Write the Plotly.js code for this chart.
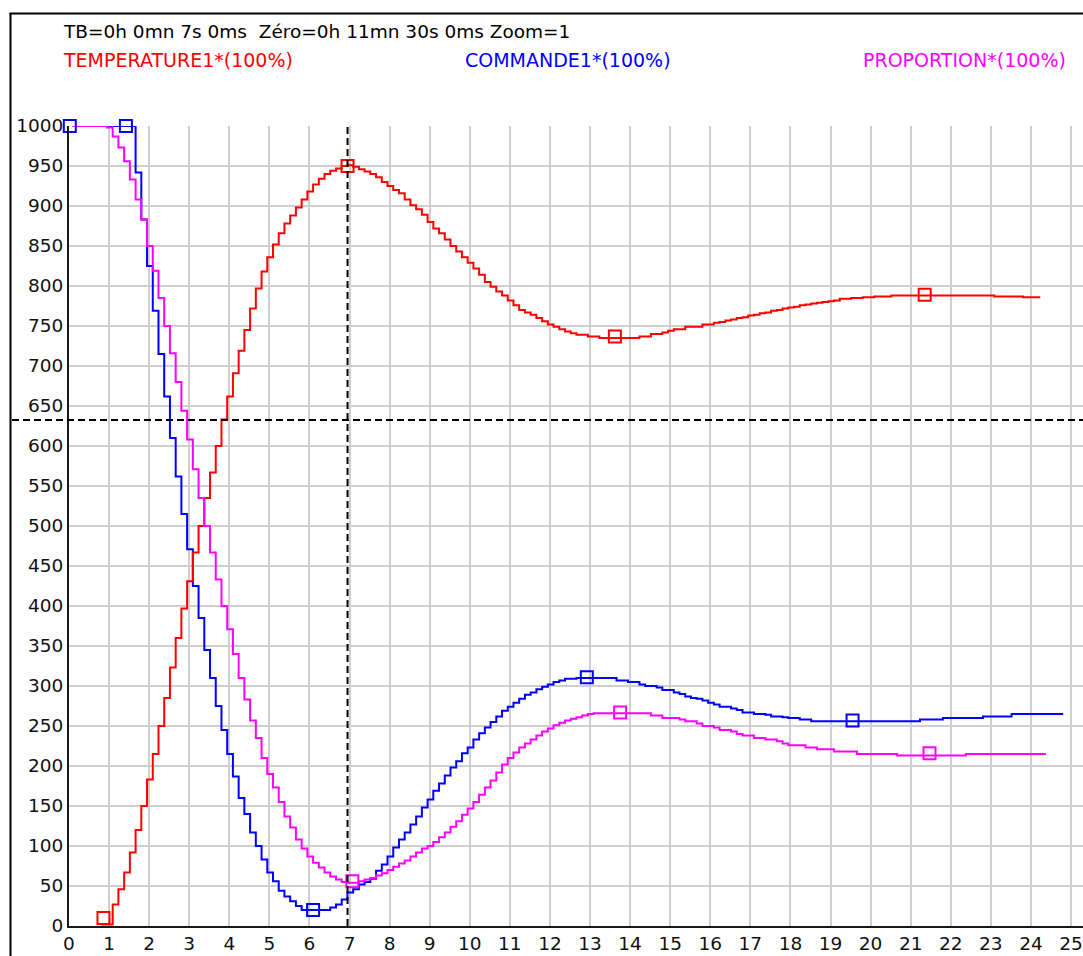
<!DOCTYPE html>
<html><head><meta charset="utf-8">
<script src="https://cdn.plot.ly/plotly-3.0.1.min.js"></script>
<style>html,body{margin:0;padding:0;background:#fff}#chart{width:1083px;height:956px}</style>
</head><body><div id="chart"></div>
<script>
// sampling of the recorder (seconds)
const sampleStart = 0.09;
const samplePeriod = 1 / 7;

// null = not visible (hidden under the time axis in the original)
const temperature1 = [
  null,null,null,null,null,2,2,27,46,67,
  92,120,150,183,215,250,285,323,360,397,
  431,467,500,535,567,600,633,662,691,719,
  745,772,797,818,836,852,866,878,888,898,
  908,918,927,934,940,944,947,950,951,949,
  946,943,940,936,930,925,920,916,908,901,
  896,889,880,872,866,858,850,843,836,829,
  822,814,805,799,793,788,782,776,770,767,
  764,760,756,752,749,746,743,741,739,739,
  737,737,735,735,735,735,735,735,735,737,
  737,740,740,742,744,746,746,749,749,749,
  752,752,754,755,757,758,760,761,763,764,
  766,767,769,770,772,773,774,776,777,778,
  779,780,781,782,784,784,785,785,786,786,
  787,787,787,788,788,788,788,788,788,788,
  788,788,788,788,788,788,788,788,788,788,
  788,787,787,787,787,787,786,786,786,786
];

const commande1 = [
  1000,1000,1000,1000,1000,1000,1000,1000,1000,1000,
  1000,942,883,825,769,715,662,610,562,515,
  471,425,385,345,310,275,245,215,187,160,
  140,117,100,83,67,56,44,37,31,25,
  20,20,20,20,20,23,27,33,42,46,
  52,55,59,69,77,87,98,108,117,127,
  137,148,158,169,178,188,198,206,216,223,
  233,241,248,255,262,269,274,279,284,289,
  292,296,299,302,305,307,309,309,310,310,
  310,310,310,310,310,307,307,305,305,302,
  300,300,298,295,295,292,290,287,285,284,
  282,279,277,274,274,272,270,267,267,265,
  265,264,262,262,261,260,260,258,258,256,
  256,256,256,256,256,256,256,256,256,256,
  256,256,256,256,256,256,256,256,258,258,
  258,258,260,260,260,260,260,260,260,262,
  262,262,262,262,265,265,265,265,265,265,
  265,265,265,265
];

const proportion = [
  1000,1000,1000,1000,1000,1000,998,987,973,956,
  933,908,883,850,819,785,750,716,680,644,
  608,571,535,500,467,433,400,371,340,310,
  283,257,235,210,190,173,155,137,123,108,
  97,87,79,73,67,62,58,55,54,54,
  56,58,60,63,66,70,74,78,82,87,
  92,97,100,105,111,117,124,131,139,147,
  155,164,173,182,192,202,210,217,223,228,
  233,238,243,247,251,254,257,259,261,263,
  265,266,266,266,266,266,266,266,266,266,
  266,263,263,260,260,260,258,256,256,253,
  250,250,248,245,245,243,240,238,238,235,
  235,233,233,231,228,226,226,226,223,223,
  221,221,221,218,218,218,218,215,215,215,
  215,215,215,215,213,213,213,213,213,213,
  213,213,213,213,213,213,215,215,215,215,
  215,215,215,215,215,215,215,215,215,215,
  215
];

// square markers placed by the recorder on each curve
const tempMarkT = [0.86, 6.95, 13.62, 21.35];
const tempMarkV = [10, 950, 737, 789];
const cmdMarkT  = [0.02, 1.42, 6.09, 12.92, 19.55];
const cmdMarkV  = [1000, 1000, 20, 311, 257];
const propMarkT = [7.07, 13.75, 21.47];
const propMarkV = [56, 267, 216];

// cursor
const cursorT = 6.95;
const cursorV = 632.5;

const xTicks = [0,1,2,3,4,5,6,7,8,9,10,11,12,13,14,15,16,17,18,19,20,21,22,23,24,25];
const yTicks = [0,50,100,150,200,250,300,350,400,450,500,550,600,650,700,750,800,850,900,950,1000];

const headerText = 'TB=0h 0mn 7s 0ms\u00A0\u00A0Zéro=0h 11mn 30s 0ms Zoom=1';
const seriesNames = ['TEMPERATURE1*(100%)', 'COMMANDE1*(100%)', 'PROPORTION*(100%)'];
const seriesColors = ['#ff0000', '#0000ff', '#ff00ff'];

const FONT = 'DejaVu Sans';

function stepTrace(y, color, name) {
  return {
    type: 'scatter', mode: 'lines', name: name,
    x0: sampleStart, dx: samplePeriod, y: y,
    line: {color: color, width: 2, shape: 'hv'},
    connectgaps: false,
    cliponaxis: false, hoverinfo: 'skip'
  };
}
function markTrace(x, y, color) {
  return {
    type: 'scatter', mode: 'markers', x: x, y: y,
    marker: {symbol: 'square-open', size: 12, color: color, line: {color: color, width: 2}},
    cliponaxis: false, hoverinfo: 'skip'
  };
}

const data = [
  stepTrace(commande1, seriesColors[1], seriesNames[1]),
  stepTrace(temperature1, seriesColors[0], seriesNames[0]),
  stepTrace(proportion, seriesColors[2], seriesNames[2]),
  markTrace(cmdMarkT, cmdMarkV, seriesColors[1]),
  markTrace(tempMarkT, tempMarkV, seriesColors[0]),
  markTrace(propMarkT, propMarkV, seriesColors[2])
];

// pixel helpers for the frame (plot area: left 69, width 1014, top 126, height 800)
const PL = 69, PW = 1014, PT = 126, PH = 800;
const px = v => (v - PL) / PW;
const py = v => (PT + PH - v) / PH;

const layout = {
  width: 1083, height: 956,
  margin: {l: PL, r: 0, t: PT, b: 30, pad: 0},
  paper_bgcolor: '#ffffff', plot_bgcolor: '#ffffff',
  showlegend: false,
  font: {family: FONT, size: 18.5, color: '#111'},
  xaxis: {
    range: [0, 25.3], tickmode: 'array', tickvals: xTicks,
    showgrid: true, gridcolor: '#cfcfcf', gridwidth: 2,
    showline: true, linecolor: '#1a1a1a', linewidth: 2,
    zeroline: false, ticks: '', tickfont: {family: FONT, size: 18.5, color: '#111'},
    fixedrange: true
  },
  yaxis: {
    range: [0, 1000], tickmode: 'array', tickvals: yTicks,
    showgrid: true, gridcolor: '#cfcfcf', gridwidth: 2,
    showline: true, linecolor: '#1a1a1a', linewidth: 2,
    zeroline: false, ticks: '', tickfont: {family: FONT, size: 18.5, color: '#111'},
    fixedrange: true
  },
  shapes: [
    {type: 'line', xref: 'x', yref: 'y', x0: cursorT, x1: cursorT, y0: 0, y1: 1000,
     line: {color: '#000', width: 2, dash: '7px,4px'}, layer: 'above'},
    {type: 'line', xref: 'paper', yref: 'y', x0: px(12), x1: 1, y0: cursorV, y1: cursorV,
     line: {color: '#000', width: 2, dash: '7px,4px'}, layer: 'above'},
    {type: 'line', xref: 'paper', yref: 'paper', x0: px(10.5), x1: px(10.5), y0: py(13), y1: py(960),
     line: {color: '#000', width: 2}, layer: 'above'},
    {type: 'line', xref: 'paper', yref: 'paper', x0: px(9.5), x1: 1.01, y0: py(13.5), y1: py(13.5),
     line: {color: '#000', width: 2}, layer: 'above'}
  ],
  annotations: [
    {xref: 'paper', yref: 'paper', x: px(61), y: py(31), xanchor: 'left', yanchor: 'middle',
     text: headerText, showarrow: false, font: {family: FONT, size: 18.5, color: '#000'}},
    {xref: 'paper', yref: 'paper', x: px(61), y: py(60), xanchor: 'left', yanchor: 'middle',
     text: seriesNames[0], showarrow: false, font: {family: FONT, size: 19, color: seriesColors[0]}},
    {xref: 'paper', yref: 'paper', x: px(463), y: py(60), xanchor: 'left', yanchor: 'middle',
     text: seriesNames[1], showarrow: false, font: {family: FONT, size: 19, color: seriesColors[1]}},
    {xref: 'paper', yref: 'paper', x: px(861), y: py(60), xanchor: 'left', yanchor: 'middle',
     text: seriesNames[2], showarrow: false, font: {family: FONT, size: 19, color: seriesColors[2]}}
  ]
};

Plotly.newPlot('chart', data, layout, {staticPlot: true, displayModeBar: false});
</script>
</body></html>
